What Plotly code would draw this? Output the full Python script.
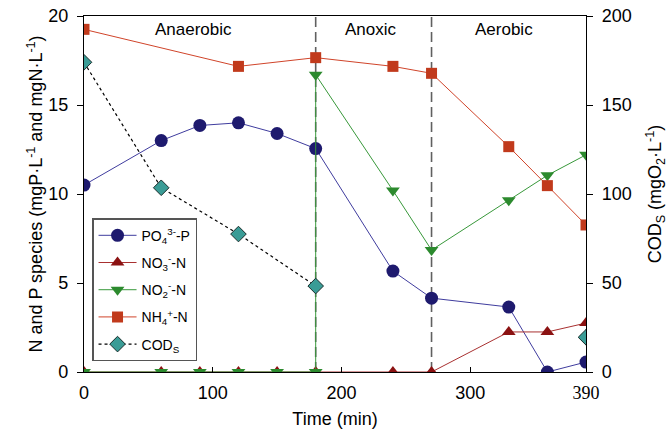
import plotly.graph_objects as go

# ---- data ----
t_po4 = [0, 60, 90, 120, 150, 180, 240, 270, 330, 360, 390]
po4 = [10.5, 13.0, 13.85, 14.0, 13.4, 12.55, 5.67, 4.15, 3.65, 0.0, 0.56]

t_no3 = [0, 60, 90, 120, 150, 180, 240, 270, 330, 360, 390]
no3 = [0, 0, 0, 0, 0, 0, 0, 0, 2.25, 2.25, 2.75]

t_no2 = [0, 60, 90, 120, 150, 180, 180, 240, 270, 330, 360, 390]
no2 = [0, 0, 0, 0, 0, 0, 16.7, 10.2, 6.85, 9.65, 11.05, 12.2]

t_nh4 = [0, 120, 180, 240, 270, 330, 360, 390]
nh4 = [19.25, 17.17, 17.66, 17.17, 16.78, 12.66, 10.47, 8.26]

t_cod = [0, 60, 120, 180, 270, 390]
cod = [174, 103.5, 77.5, 48.3, None, 19.5]

phase_bounds = [180, 270]
phase_names = ["Anaerobic", "Anoxic", "Aerobic"]
phase_label_x = [85, 223, 326]

x_ticks = [0, 100, 200, 300, 390]
x_ticktext = ["0", "100", "200", "300",
              '<span style="font-family:\'Liberation Serif\'">390</span>']

FONT = "Liberation Sans, Arial, sans-serif"

fig = go.Figure()

fig.add_trace(go.Scatter(
    x=t_po4, y=po4, mode="lines+markers", name="PO<sub>4</sub><sup>3-</sup>-P",
    line=dict(color="#3f3c9e", width=1),
    marker=dict(symbol="circle", size=13, color="#1e1a6e"),
    legendgroup="a"))
fig.add_trace(go.Scatter(
    x=t_no3, y=no3, mode="lines+markers", name="NO<sub>3</sub><sup>-</sup>-N",
    line=dict(color="#a83030", width=1),
    marker=dict(symbol="triangle-up", size=12, color="#8b1212"),
    legendgroup="b"))
fig.add_trace(go.Scatter(
    x=t_no2, y=no2, mode="lines+markers", name="NO<sub>2</sub><sup>-</sup>-N",
    line=dict(color="#38983a", width=1),
    marker=dict(symbol="triangle-down", size=12, color="#2c8a2e"),
    legendgroup="c"))
fig.add_trace(go.Scatter(
    x=t_nh4, y=nh4, mode="lines+markers", name="NH<sub>4</sub><sup>+</sup>-N",
    line=dict(color="#d0442a", width=1),
    marker=dict(symbol="square", size=11, color="#c13a1c"),
    legendgroup="d"))
fig.add_trace(go.Scatter(
    x=t_cod, y=cod, mode="lines+markers", name="COD<sub>S</sub>",
    line=dict(color="black", width=1.2, dash="dot"),
    marker=dict(symbol="diamond", size=12, color="#3a9c96",
                line=dict(color="#1a2e2c", width=1)),
    connectgaps=False, yaxis="y2", legendgroup="e"))

shapes = []
for b in phase_bounds:
    shapes.append(dict(type="line", xref="x", yref="y", x0=b, x1=b, y0=0, y1=20,
                       line=dict(color="#606060", width=1.6, dash="10px,5px"),
                       layer="below"))

annotations = []
for name, xp in zip(phase_names, phase_label_x):
    annotations.append(dict(x=xp, y=19.25, xref="x", yref="y", text=name,
                            showarrow=False, font=dict(size=17, color="black", family=FONT)))

fig.update_layout(
    width=668, height=432,
    margin=dict(l=84, r=82, t=16, b=60),
    paper_bgcolor="white", plot_bgcolor="white",
    font=dict(family=FONT, size=18, color="black"),
    shapes=shapes, annotations=annotations,
    showlegend=True,
    legend=dict(x=0.016, y=0.432, xanchor="left", yanchor="top",
                bgcolor="white", bordercolor="#555555", borderwidth=1.5,
                font=dict(size=14, family=FONT), tracegroupgap=6,
                itemwidth=38),
    xaxis=dict(range=[0, 390], tickvals=x_ticks, ticktext=x_ticktext,
               showline=True, linecolor="black", linewidth=1.2, mirror=True,
               ticks="inside", ticklen=5, tickcolor="black", showgrid=False,
               zeroline=False, tickfont=dict(size=18), ticklabelstandoff=4,
               automargin=False,
               title=dict(text="Time (min)", font=dict(size=18), standoff=10)),
    yaxis=dict(range=[0, 20], tickvals=[0, 5, 10, 15, 20],
               showline=True, linecolor="black", linewidth=1.2,
               ticks="outside", ticklen=6, tickcolor="black", showgrid=False,
               zeroline=False, tickfont=dict(size=18), ticklabelstandoff=5,
               automargin=False,
               title=dict(text="N and P species (mgP·L<sup>-1</sup> and mgN·L<sup>-1</sup>)",
                          font=dict(size=18), standoff=0)),
    yaxis2=dict(range=[0, 200], tickvals=[0, 50, 100, 150, 200], overlaying="y",
                side="right", showline=True, linecolor="black", linewidth=1.2,
                ticks="outside", ticklen=6, tickcolor="black", showgrid=False,
                zeroline=False, tickfont=dict(size=18), ticklabelstandoff=5,
                automargin=False,
                title=dict(text="COD<sub>S</sub> (mgO<sub>2</sub>·L<sup>-1</sup>)",
                           font=dict(size=18), standoff=18)),
)

fig.write_html("out.html")
